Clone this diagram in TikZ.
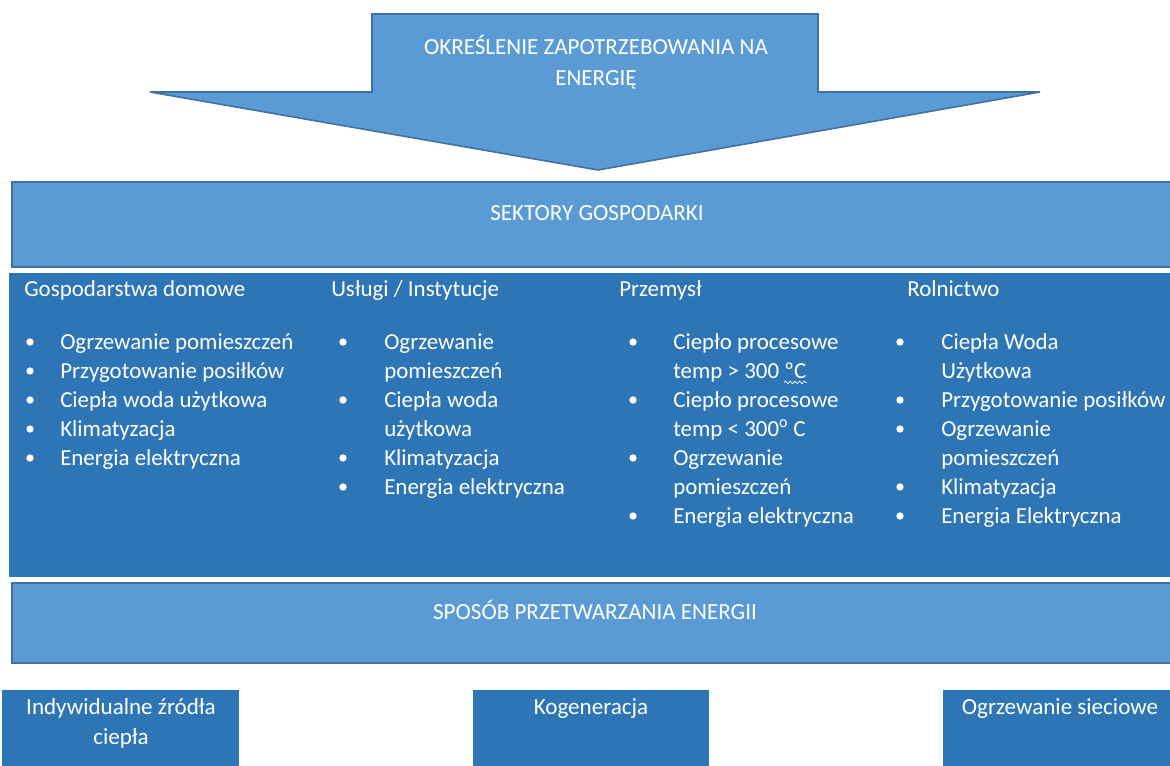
\documentclass[tikz,border=0pt]{standalone}
\usepackage{fontspec}
\setmainfont{Carlito}
\usetikzlibrary{positioning,decorations.pathmorphing}
\definecolor{lightblue}{HTML}{5B9BD5}
\definecolor{borderblue}{HTML}{41719C}
\definecolor{darkblue}{HTML}{2E75B6}
\tikzset{
    lightbox/.style={
    draw=borderblue,fill=lightblue,line width=1.2pt
    },
    darkbox/.style={
    draw=darkblue,fill=darkblue,line width=0.8pt
    },
    title/.style={text=white,font=\fontsize{17.3}{23}\selectfont,inner sep=0pt,anchor=base},
    hdr/.style={text=white,font=\fontsize{17.2}{21.75}\selectfont,inner sep=0pt,anchor=base west},
    item/.style={hdr},
    bul/.style={circle,fill=white,inner sep=0pt,minimum size=5.5pt},
    squiggle/.style={draw=white,line width=0.5pt,decorate,decoration={snake,amplitude=1pt,segment length=3.5pt}},
}

\begin{document}
\begin{tikzpicture}[x=0.75pt,y=-0.75pt]
   \useasboundingbox (0,0) rectangle (1170,765);

   % arrow
   \path[lightbox] (372,14) -- (818,14) -- (818,92) -- (1040,92) -- (598,170)
        -- (150,92) -- (372,92) -- cycle;
   \node[title] (okr1) at (596,54) {OKREŚLENIE ZAPOTRZEBOWANIA NA};
   \node[title] (okr2) at (596,85) {ENERGIĘ};

   % sectors
   \path[lightbox] (12,182) rectangle (1180,267);
   \node[title] (sekt) at (597,220) {SEKTORY GOSPODARKI};

   \path[darkbox] (10,274) rectangle (1180,576);

   % column 1
   \node[hdr]  (gosp)  at (24,296)  {Gospodarstwa domowe};
   \node[bul]  (gb1)   at (30,342)  {};
   \node[bul]  (gb2)   at (30,371)  {};
   \node[bul]  (gb3)   at (30,400)  {};
   \node[bul]  (gb4)   at (30,429)  {};
   \node[bul]  (gb5)   at (30,458)  {};
   \node[item] (g1)    at (60,349)  {Ogrzewanie pomieszczeń};
   \node[item] (g2)    at (60,378)  {Przygotowanie posiłków};
   \node[item] (g3)    at (60,407)  {Ciepła woda użytkowa};
   \node[item] (g4)    at (60,436)  {Klimatyzacja};
   \node[item] (g5)    at (60,465)  {Energia elektryczna};

   % column 2
   \node[hdr]  (uslu)  at (331,296) {Usługi / Instytucje};
   \node[bul]  (ub1)   at (343,342) {};
   \node[bul]  (ub2)   at (343,400) {};
   \node[bul]  (ub3)   at (343,458) {};
   \node[bul]  (ub4)   at (343,487) {};
   \node[item] (u1)    at (384,349) {Ogrzewanie};
   \node[item] (u1b)   at (384,378) {pomieszczeń};
   \node[item] (u2)    at (384,407) {Ciepła woda};
   \node[item] (u2b)   at (384,436) {użytkowa};
   \node[item] (u3)    at (384,465) {Klimatyzacja};
   \node[item] (u4)    at (384,494) {Energia elektryczna};

   % column 3
   \node[hdr]  (przem) at (619,296) {Przemysł};
   \node[bul]  (pb1)   at (633,342) {};
   \node[bul]  (pb2)   at (633,400) {};
   \node[bul]  (pb3)   at (633,458) {};
   \node[bul]  (pb4)   at (633,516) {};
   \node[item] (p1)    at (673,349) {Ciepło procesowe};
   \node[item] (p1b)   at (673,378) {temp > 300};
   \node[item] (p1c)   at ([xshift=3.5pt]p1b.base east) {ºC};
   \path[squiggle] ([yshift=-3pt]p1c.south west) -- ([yshift=-3pt]p1c.south east);
   \node[item] (p2)    at (673,407) {Ciepło procesowe};
   \node[item] (p2b)   at (673,436) {temp < 300\textsuperscript{o} C};
   \node[item] (p3)    at (673,465) {Ogrzewanie};
   \node[item] (p3b)   at (673,494) {pomieszczeń};
   \node[item] (p4)    at (673,523) {Energia elektryczna};

   % column 4
   \node[hdr]  (roln)  at (907,296) {Rolnictwo};
   \node[bul]  (rb1)   at (900,342) {};
   \node[bul]  (rb2)   at (900,400) {};
   \node[bul]  (rb3)   at (900,429) {};
   \node[bul]  (rb4)   at (900,487) {};
   \node[bul]  (rb5)   at (900,516) {};
   \node[item] (r1)    at (941,349) {Ciepła Woda};
   \node[item] (r1b)   at (941,378) {Użytkowa};
   \node[item] (r2)    at (941,407) {Przygotowanie posiłków};
   \node[item] (r3)    at (941,436) {Ogrzewanie};
   \node[item] (r3b)   at (941,465) {pomieszczeń};
   \node[item] (r4)    at (941,494) {Klimatyzacja};
   \node[item] (r5)    at (941,523) {Energia Elektryczna};

   % conversion
   \path[lightbox] (12,583) rectangle (1180,663);
   \node[title] (spos) at (595,619) {SPOSÓB PRZETWARZANIA ENERGII};

   \path[darkbox] (3,691) rectangle (238,775);
   \path[darkbox] (474,691) rectangle (708,775);
   \path[darkbox] (944,691) rectangle (1180,775);
   \node[title] (indy1) at (121,714)  {Indywidualne źródła};
   \node[title] (indy2) at (121,744)  {ciepła};
   \node[title] (kogen) at (591,714)  {Kogeneracja};
   \node[title] (ogrz)  at (1060,714) {Ogrzewanie sieciowe};
\end{tikzpicture}
\end{document}
